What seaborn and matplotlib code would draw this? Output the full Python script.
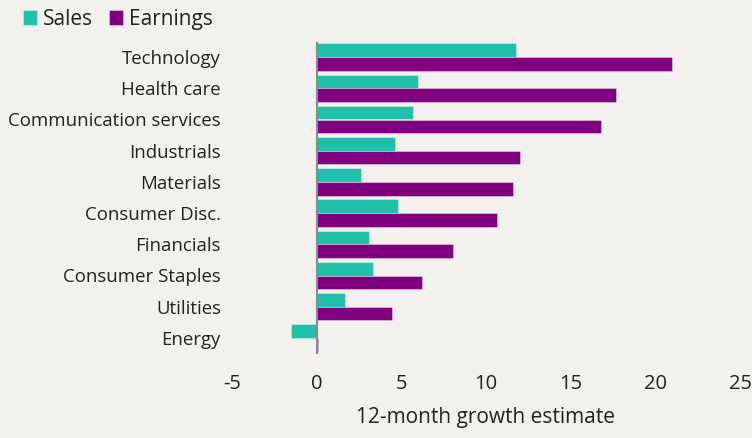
import matplotlib
matplotlib.use("Agg")
import matplotlib.pyplot as plt
import seaborn as sns
import pandas as pd

sectors = ["Technology", "Health care", "Communication services", "Industrials",
           "Materials", "Consumer Disc.", "Financials", "Consumer Staples",
           "Utilities", "Energy"]
sales = [11.8, 6.0, 5.7, 4.65, 2.6, 4.8, 3.1, 3.3, 1.7, -1.5]
earnings = [21.0, 17.7, 16.8, 12.0, 11.6, 10.65, 8.05, 6.2, 4.45, 0.08]
series_names = ["Sales", "Earnings"]
xticks = [-5, 0, 5, 10, 15, 20, 25]

BG = "#f2f1ed"
TEAL = "#20bfa9"
PURPLE = "#800080"
TXT = "#222222"

df = pd.DataFrame({
    "sector": sectors * 2,
    "value": sales + earnings,
    "metric": [series_names[0]] * len(sectors) + [series_names[1]] * len(sectors),
})

sns.set_theme(style="white")
plt.rcParams["font.family"] = ["Open Sans", "DejaVu Sans"]

fig = plt.figure(figsize=(7.52, 4.38), dpi=100, facecolor=BG)
ax = fig.add_axes([232 / 752, 1 - 353.5 / 438, (740 - 232) / 752, (353.5 - 41.5) / 438])
ax.set_facecolor(BG)

sns.barplot(data=df, y="sector", x="value", hue="metric", orient="h",
            palette=[TEAL, PURPLE], width=0.88, saturation=1, ax=ax,
            edgecolor=(1, 1, 1, 0.35), linewidth=0.8, legend=True)

ax.set_xlim(-5, 25)
ax.set_ylim(len(sectors) - 0.5, -0.5)
ax.set_xticks(xticks)
ax.set_xticklabels([str(t) for t in xticks])
ax.axvline(0, color="#8a8a8a", lw=1.5, zorder=5)
for s in ax.spines.values():
    s.set_visible(False)
ax.tick_params(axis="y", length=0, pad=8, labelsize=13.4, labelcolor=TXT)
ax.tick_params(axis="x", length=0, pad=15, labelsize=14.5, labelcolor=TXT)
ax.set_ylabel("")
ax.set_xlabel("12-month growth estimate", fontsize=15, color=TXT, labelpad=9)

leg = ax.get_legend()
handles = leg.legend_handles
leg.remove()
fig.legend(handles, series_names, loc="upper left", bbox_to_anchor=(0.011, 1.013),
           ncol=2, frameon=False, fontsize=15, handlelength=0.68, handleheight=0.68,
           handletextpad=0.3, columnspacing=0.75, labelcolor=TXT, borderaxespad=0.3)

fig.savefig("out.png", dpi=100, facecolor=BG)
